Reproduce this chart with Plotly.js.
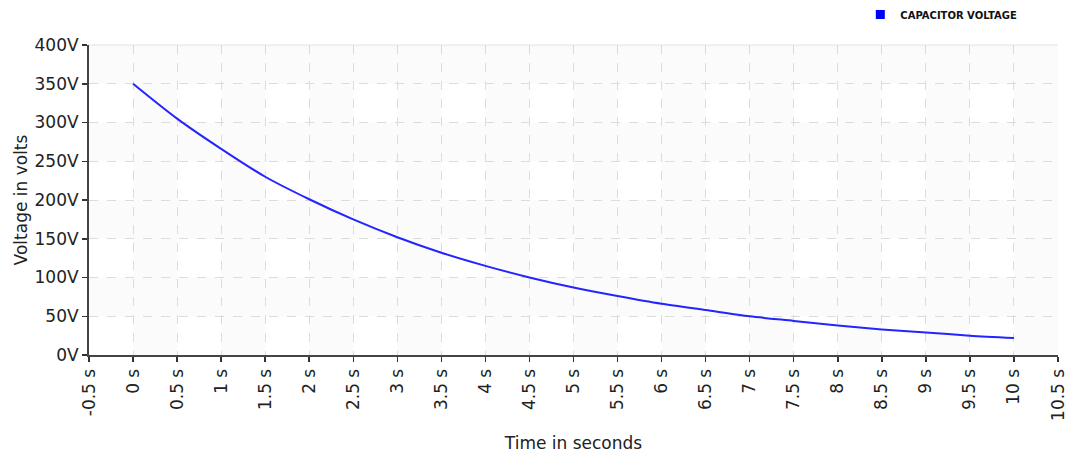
<!DOCTYPE html>
<html>
<head>
<meta charset="utf-8">
<script src="https://cdn.plot.ly/plotly-3.0.1.min.js"></script>
<style>html,body{margin:0;padding:0;background:#fff;}#chart{width:1069px;height:453px;}</style>
</head>
<body>
<div id="chart"></div>
<script>
// Data
const seriesName = "CAPACITOR VOLTAGE";
const timeSeconds = [0, 0.5, 1, 1.5, 2, 2.5, 3, 3.5, 4, 4.5, 5, 5.5, 6, 6.5, 7, 7.5, 8, 8.5, 9, 9.5, 10];
const voltage = [350, 305, 266, 230, 201, 175, 152, 132, 115, 100, 87, 76, 66, 58, 50, 44, 38, 33, 29, 25, 22];
const xTickVals = [-0.5, 0, 0.5, 1, 1.5, 2, 2.5, 3, 3.5, 4, 4.5, 5, 5.5, 6, 6.5, 7, 7.5, 8, 8.5, 9, 9.5, 10, 10.5];
const yTickVals = [0, 50, 100, 150, 200, 250, 300, 350, 400];
const xRange = [-0.5, 10.5];
const yRange = [0, 400];

const fontFam = "DejaVu Sans, sans-serif";
const bandFill = "rgba(0,0,0,0.017)";

// background banding (horizontal stripes + vertical stripes, no double shading)
const shapes = [];
for (let i = 0; i + 1 < yTickVals.length; i++) {
  const y0 = yTickVals[i], y1 = yTickVals[i + 1];
  if (i % 2 === 1) {
    shapes.push({type: 'rect', layer: 'below', xref: 'paper', yref: 'y', x0: 0, x1: 1, y0: y0, y1: y1, fillcolor: bandFill, line: {width: 0}});
  } else {
    for (let j = 1; j + 1 < xTickVals.length; j += 2) {
      shapes.push({type: 'rect', layer: 'below', xref: 'x', yref: 'y', x0: xTickVals[j], x1: xTickVals[j + 1], y0: y0, y1: y1, fillcolor: bandFill, line: {width: 0}});
    }
  }
}
shapes.push({type: 'line', layer: 'below', xref: 'paper', yref: 'paper', x0: 0, x1: 1, y0: 1, y1: 1, line: {color: '#e2e2e2', width: 1}});

const traces = [
  {
    x: timeSeconds, y: voltage, type: 'scatter', mode: 'lines',
    line: {color: '#2424ff', width: 2, shape: 'spline', smoothing: 0.8},
    showlegend: false, hoverinfo: 'x+y'
  },
  {
    x: [null], y: [null], type: 'scatter', mode: 'markers', name: seriesName,
    marker: {color: '#0000ff', symbol: 'square', size: 9},
    showlegend: true
  }
];

const layout = {
  width: 1069, height: 453,
  margin: {l: 89, r: 11, t: 45, b: 98, autoexpand: false},
  paper_bgcolor: '#ffffff', plot_bgcolor: '#ffffff',
  font: {family: fontFam, size: 17, color: '#222'},
  shapes: shapes,
  showlegend: true,
  legend: {
    orientation: 'h', x: 0.796, xanchor: 'left', y: 1.098, yanchor: 'middle',
    font: {family: fontFam, size: 10, color: '#111', weight: 'bold'},
    bgcolor: 'rgba(0,0,0,0)', itemwidth: 30
  },
  xaxis: {
    range: xRange, tickmode: 'array', tickvals: xTickVals,
    ticktext: xTickVals.map(v => v + ' s'),
    tickangle: -90, ticks: 'outside', ticklen: 5, tickwidth: 1.5, tickcolor: '#333',
    showline: true, linecolor: '#444', linewidth: 2,
    showgrid: true, gridcolor: '#dcdcdc', griddash: 'dash', gridwidth: 1,
    zeroline: false, automargin: false,
    tickfont: {family: fontFam, size: 17, color: '#222'},
    title: {text: 'Time in seconds', font: {family: fontFam, size: 17, color: '#222'}, standoff: 18}
  },
  yaxis: {
    range: yRange, tickmode: 'array', tickvals: yTickVals,
    ticktext: yTickVals.map(v => v + 'V'),
    ticks: 'outside', ticklen: 5, tickwidth: 1.5, tickcolor: '#333',
    showline: true, linecolor: '#444', linewidth: 2,
    showgrid: true, gridcolor: '#dcdcdc', griddash: 'dash', gridwidth: 1,
    zeroline: false, automargin: false,
    tickfont: {family: fontFam, size: 17, color: '#222'},
    title: {text: 'Voltage in volts', font: {family: fontFam, size: 17, color: '#222'}, standoff: 3}
  }
};

Plotly.newPlot('chart', traces, layout, {displayModeBar: false, staticPlot: true});
</script>
</body>
</html>
